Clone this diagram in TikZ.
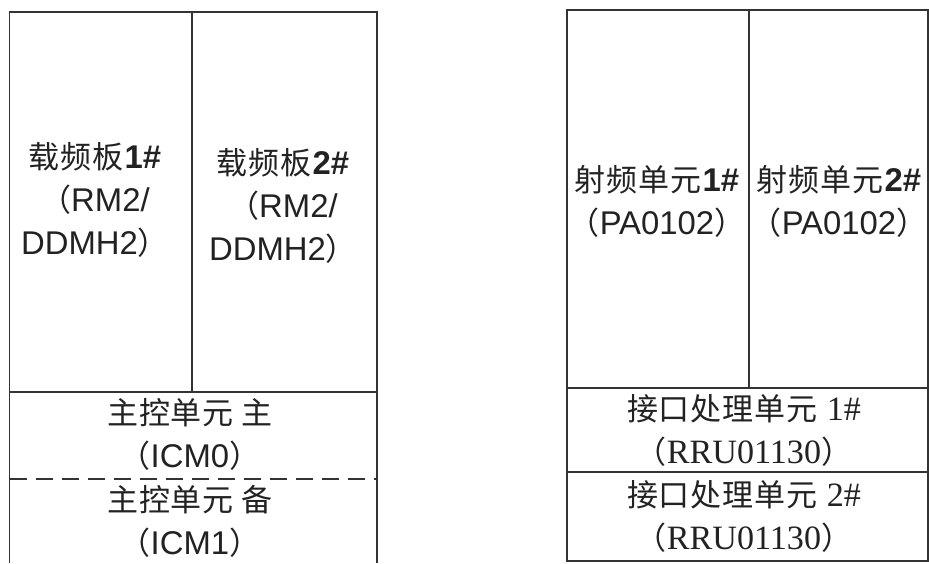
\documentclass[tikz,border=0pt]{standalone}
\usepackage{fontspec}
\setmainfont{Liberation Sans}[Scale=1.06]
\newfontfamily\cjk{Noto Sans CJK SC}[LetterSpace=3]
\newfontfamily\serifL{Liberation Serif}[Scale=1.1]
\definecolor{linegray}{HTML}{333333}
\definecolor{textgray}{HTML}{222222}
\begin{document}
\begin{tikzpicture}[x=1pt,y=-1pt,
  frame/.style={draw=linegray, line width=1.7pt},
  dashdiv/.style={draw=linegray, line width=1.6pt, dash pattern=on 17pt off 9pt},
  lbl/.style={align=center, text=textgray, font=\fontsize{31}{43}\selectfont, inner sep=0pt}]
\useasboundingbox (0,0) rectangle (929,563);
% left unit
\draw[frame] (9.5,563) -- (9.5,12) -- (377,12) -- (377,563);
\draw[frame] (9.5,392) -- (377,392);
\draw[frame] (192,12) -- (192,392);
\draw[dashdiv] (9.5,479) -- (377,479);
% right unit
\draw[frame] (567,10) rectangle (928,561);
\draw[frame] (567,388) -- (928,388);
\draw[frame] (567,472) -- (928,472);
\draw[frame] (749,10) -- (749,388);
% labels
\node[lbl] (c1) at (95,200) {{\cjk 载频板}\textbf{1\#}\\{\cjk （}RM2/\\DDMH2{\cjk ）}};
\node[lbl] (c2) at (283,206) {{\cjk 载频板}\textbf{2\#}\\{\cjk （}RM2/\\DDMH2{\cjk ）}};
\node[lbl] (m0) at (190,434) {{\cjk 主控单元 主}\\{\cjk （}ICM0{\cjk ）}};
\node[lbl] (m1) at (190,521) {{\cjk 主控单元 备}\\{\cjk （}ICM1{\cjk ）}};
\node[lbl] (p1) at (657,201) {{\cjk 射频单元}\textbf{1\#}\\{\cjk （}PA0102{\cjk ）}};
\node[lbl] (p2) at (839,201) {{\cjk 射频单元}\textbf{2\#}\\{\cjk （}PA0102{\cjk ）}};
\node[lbl] (r1) at (744,430) {{\cjk 接口处理单元} {\serifL 1\#}\\{\cjk （}{\serifL RRU01130}{\cjk ）}};
\node[lbl] (r2) at (744,516) {{\cjk 接口处理单元} {\serifL 2\#}\\{\cjk （}{\serifL RRU01130}{\cjk ）}};
\end{tikzpicture}
\end{document}
